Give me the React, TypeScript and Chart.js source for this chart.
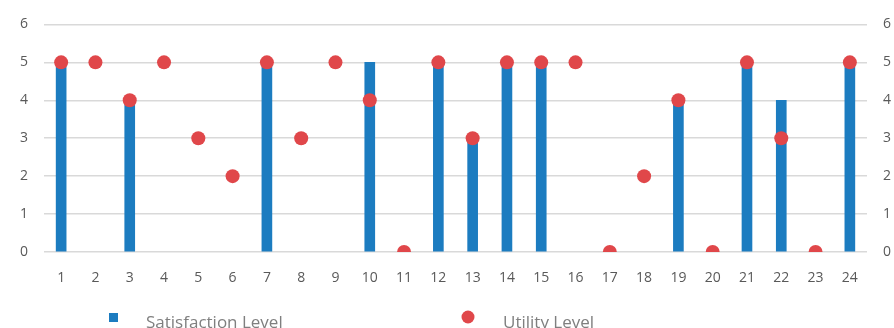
import React, { useEffect, useRef } from "react";
import { Chart, registerables } from "chart.js";

Chart.register(...registerables);

const categories = ["1","2","3","4","5","6","7","8","9","10","11","12","13","14","15","16","17","18","19","20","21","22","23","24"];
const satisfactionLevel = [5,0,4,0,0,0,5,0,0,5,0,5,3,5,5,0,0,0,4,0,5,4,0,5];
const utilityLevel = [5,5,4,5,3,2,5,3,5,4,0,5,3,5,5,5,0,2,4,0,5,3,0,5];
const seriesNames = ["Satisfaction Level", "Utility Level"];

const BLUE = "#1c7cc0";
const RED = "#e0474a";
const FONT = "'Open Sans', 'Liberation Sans', sans-serif";

const legendPlugin = {
  id: "customLegend",
  afterDraw(chart: any) {
    const ctx = chart.ctx;
    ctx.save();
    ctx.fillStyle = BLUE;
    ctx.fillRect(109, 313, 9, 9);
    ctx.fillStyle = RED;
    ctx.beginPath();
    ctx.arc(468, 317, 6.5, 0, Math.PI * 2);
    ctx.fill();
    ctx.fillStyle = "#7f7f7f";
    ctx.font = "17px " + FONT;
    ctx.textBaseline = "middle";
    ctx.textAlign = "left";
    ctx.fillText(seriesNames[0], 146, 323);
    ctx.fillText(seriesNames[1], 503, 323);
    ctx.restore();
  },
};

export default function App() {
  const ref = useRef<HTMLCanvasElement>(null);
  useEffect(() => {
    const chart = new Chart(ref.current!, {
      type: "bar",
      data: {
        labels: categories,
        datasets: [
          {
            type: "scatter" as any,
            label: seriesNames[1],
            data: utilityLevel as any,
            backgroundColor: RED,
            borderColor: RED,
            pointRadius: 7,
            pointBorderWidth: 0,
            showLine: false,
            yAxisID: "y",
            order: 0,
          } as any,
          {
            type: "bar",
            label: seriesNames[0],
            data: satisfactionLevel,
            backgroundColor: (c: any) => (c.raw === 0 ? "rgba(0,0,0,0)" : BLUE),
            borderWidth: 0,
            barThickness: 10,
            yAxisID: "y",
            order: 1,
          },
        ],
      },
      options: {
        animation: false,
        responsive: false,
        maintainAspectRatio: false,
        layout: { padding: { top: 20, bottom: 0, left: 0, right: 0 } },
        plugins: { legend: { display: false }, tooltip: { enabled: false } },
        scales: {
          x: {
            type: "category",
            offset: true,
            grid: { display: false },
            border: { display: false },
            ticks: { color: "#595959", font: { family: FONT, size: 14 }, padding: 10 },
            afterFit(scale: any) { scale.height = 76; },
          },
          y: {
            position: "left",
            min: 0,
            max: 6,
            ticks: { stepSize: 1, color: "#595959", font: { family: FONT, size: 14 }, padding: 16 },
            grid: { color: "#d9d9d9", lineWidth: 1.5, drawTicks: false },
            border: { display: false },
            afterFit(scale: any) { scale.width = 44; },
          },
          y2: {
            position: "right",
            min: 0,
            max: 6,
            ticks: { stepSize: 1, color: "#595959", font: { family: FONT, size: 14 }, padding: 16 },
            grid: { display: false, drawTicks: false },
            border: { display: false },
            afterFit(scale: any) { scale.width = 27; },
          },
        },
      },
      plugins: [legendPlugin],
    });
    return () => chart.destroy();
  }, []);
  return (
    <div style={{ position: "fixed", left: 0, top: 0, width: 894, height: 328, background: "#fff" }}>
      <canvas ref={ref} width={894} height={328} style={{ display: "block" }} />
    </div>
  );
}
